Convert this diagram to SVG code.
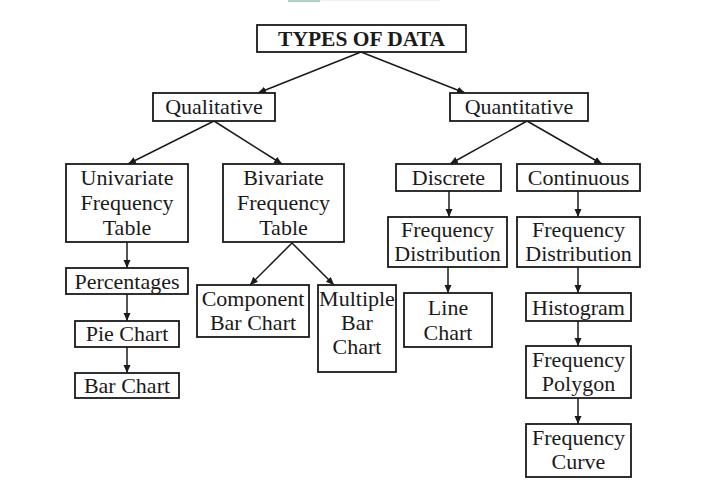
<svg xmlns="http://www.w3.org/2000/svg" width="720" height="485" viewBox="0 0 720 485">
<defs>
<style>
.box{fill:#fff;stroke:#1a1a1a;stroke-width:1.8}
.t{font-family:"Liberation Serif","Times New Roman",serif;font-size:22px;fill:#1a1a1a;text-anchor:middle}
.tb{font-weight:bold;font-size:21.5px}
.c{stroke:#1a1a1a;stroke-width:1.5;fill:none}
</style>
<marker id="ah" markerUnits="userSpaceOnUse" markerWidth="9" markerHeight="8" refX="8" refY="3.5" orient="auto">
<path d="M0,0 L8,3.5 L0,7 z" fill="#1a1a1a"/>
</marker>
</defs>
<rect width="720" height="485" fill="#fff"/>
<rect x="288" y="0" width="32" height="2" fill="#a9d6c0"/>
<rect x="320" y="0" width="120" height="1" fill="#f0f0f0"/>

<g id="connectors">
<path class="c" marker-end="url(#ah)" d="M361,52 L258,93"/>
<path class="c" marker-end="url(#ah)" d="M361,52 L465,93"/>
<path class="c" marker-end="url(#ah)" d="M214,121 L128,164"/>
<path class="c" marker-end="url(#ah)" d="M214,121 L282,164"/>
<path class="c" marker-end="url(#ah)" d="M527,121 L450,164"/>
<path class="c" marker-end="url(#ah)" d="M527,121 L602,164"/>
<path class="c" marker-end="url(#ah)" d="M449,191 L449,217"/>
<path class="c" marker-end="url(#ah)" d="M578,191 L578,217"/>
<path class="c" marker-end="url(#ah)" d="M127,242 L127,268"/>
<path class="c" marker-end="url(#ah)" d="M127,294 L127,321"/>
<path class="c" marker-end="url(#ah)" d="M127,347 L127,373"/>
<path class="c" marker-end="url(#ah)" d="M292,243 L250,285"/>
<path class="c" marker-end="url(#ah)" d="M292,243 L334,285"/>
<path class="c" marker-end="url(#ah)" d="M448,267 L448,293"/>
<path class="c" marker-end="url(#ah)" d="M578,267 L578,293"/>
<path class="c" marker-end="url(#ah)" d="M578,321 L578,346"/>
<path class="c" marker-end="url(#ah)" d="M578,398 L578,424"/>
</g>

<g id="types-of-data"><rect class="box" x="257" y="25" width="209" height="27"/><text class="t tb" x="361.5" y="46">TYPES OF DATA</text></g>
<g id="qualitative"><rect class="box" x="153" y="93" width="122" height="28"/><text class="t" x="214" y="114">Qualitative</text></g>
<g id="quantitative"><rect class="box" x="450" y="93" width="138" height="28"/><text class="t" x="519" y="114">Quantitative</text></g>
<g id="univariate"><rect class="box" x="66" y="164" width="122" height="78"/><text class="t" x="127" y="185">Univariate</text><text class="t" x="127" y="210">Frequency</text><text class="t" x="127" y="235">Table</text></g>
<g id="bivariate"><rect class="box" x="223" y="164" width="121" height="78"/><text class="t" x="283.5" y="185">Bivariate</text><text class="t" x="283.5" y="210">Frequency</text><text class="t" x="283.5" y="235">Table</text></g>
<g id="discrete"><rect class="box" x="396" y="164" width="105" height="27"/><text class="t" x="448.5" y="185">Discrete</text></g>
<g id="continuous"><rect class="box" x="517" y="164" width="123" height="27"/><text class="t" x="578.5" y="185">Continuous</text></g>
<g id="freq-dist-discrete"><rect class="box" x="388" y="217" width="119" height="50"/><text class="t" x="447.5" y="237">Frequency</text><text class="t" x="447.5" y="261">Distribution</text></g>
<g id="freq-dist-continuous"><rect class="box" x="517" y="217" width="123" height="50"/><text class="t" x="578.5" y="237">Frequency</text><text class="t" x="578.5" y="261">Distribution</text></g>
<g id="percentages"><rect class="box" x="66" y="268" width="122" height="26"/><text class="t" x="127" y="289">Percentages</text></g>
<g id="pie-chart"><rect class="box" x="75" y="321" width="104" height="26"/><text class="t" x="127" y="341">Pie Chart</text></g>
<g id="bar-chart"><rect class="box" x="75" y="373" width="104" height="25"/><text class="t" x="127" y="393">Bar Chart</text></g>
<g id="component-bar-chart"><rect class="box" x="197" y="285" width="112" height="52"/><text class="t" x="253" y="306">Component</text><text class="t" x="253" y="330">Bar Chart</text></g>
<g id="multiple-bar-chart"><rect class="box" x="318" y="285" width="78" height="87"/><text class="t" x="357" y="306">Multiple</text><text class="t" x="357" y="330">Bar</text><text class="t" x="357" y="354">Chart</text></g>
<g id="line-chart"><rect class="box" x="404" y="293" width="88" height="54"/><text class="t" x="448" y="315">Line</text><text class="t" x="448" y="340">Chart</text></g>
<g id="histogram"><rect class="box" x="526" y="293" width="105" height="28"/><text class="t" x="578.5" y="315">Histogram</text></g>
<g id="frequency-polygon"><rect class="box" x="526" y="346" width="105" height="52"/><text class="t" x="578.5" y="367">Frequency</text><text class="t" x="578.5" y="391">Polygon</text></g>
<g id="frequency-curve"><rect class="box" x="526" y="424" width="105" height="53"/><text class="t" x="578.5" y="445">Frequency</text><text class="t" x="578.5" y="469">Curve</text></g>
</svg>
